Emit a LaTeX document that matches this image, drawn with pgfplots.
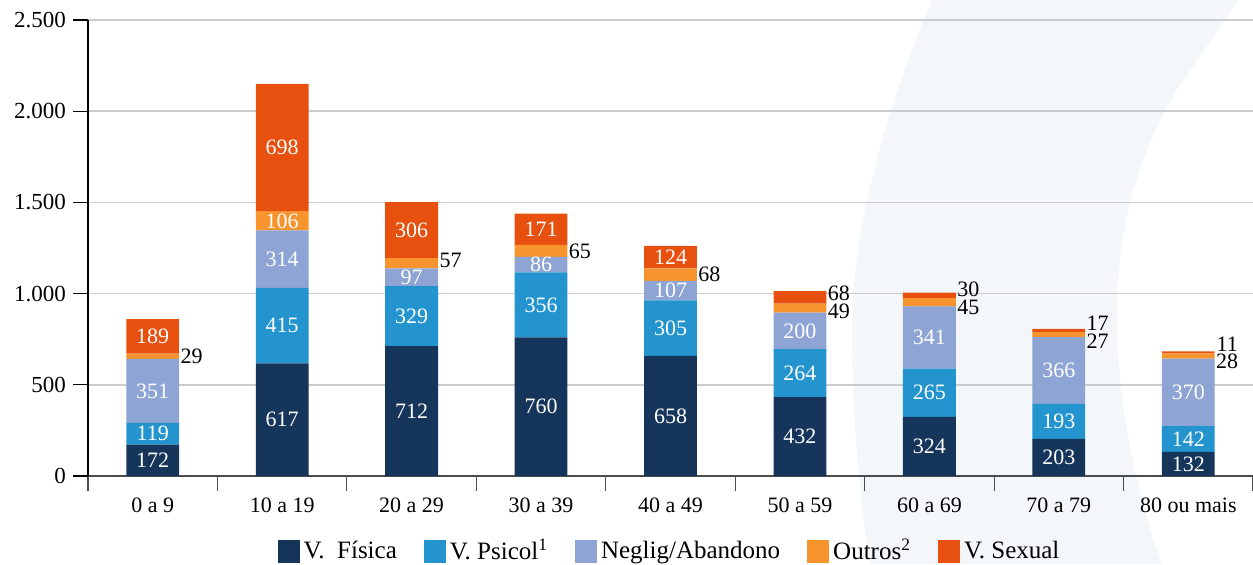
\documentclass[border=0pt]{standalone}
\usepackage{pgfplots}
\pgfplotsset{compat=1.18}
\usepackage{pgfplotstable}
\usepackage{fontspec}
\setmainfont{Liberation Serif}
\definecolor{cFis}{HTML}{15355B}
\definecolor{cPsi}{HTML}{2394CE}
\definecolor{cNeg}{HTML}{8EA4D4}
\definecolor{cOut}{HTML}{F7942D}
\definecolor{cSex}{HTML}{E8500F}
\definecolor{cArc}{HTML}{F3F7FA}
\newcommand{\f}{\fontsize{11pt}{13pt}\selectfont}
\newcommand{\fl}{\fontsize{12.5pt}{14pt}\selectfont}

\pgfplotstableread{
x v out dy
0 172 0 0
1 617 0 0
2 712 0 0
3 760 0 0
4 658 0 0
5 432 0 0
6 324 0 0
7 203 0 0
8 132 0 0
}\tFis
\pgfplotstableread{
x v out dy
0 119 0 0
1 415 0 0
2 329 0 0
3 356 0 0
4 305 0 0
5 264 0 0
6 265 0 0
7 193 0 0
8 142 0 0
}\tPsi
\pgfplotstableread{
x v out dy
0 351 0 0
1 314 0 0
2 97 0 0
3 86 0 0
4 107 0 0
5 200 0 0
6 341 0 0
7 366 0 0
8 370 0 0
}\tNeg
\pgfplotstableread{
x v out dy
0 29 1 0
1 106 0 0
2 57 1 1.5
3 65 1 0
4 68 1 0
5 49 1 -1.6
6 45 1 -2.4
7 27 1 -3.1
8 28 1 -2.9
}\tOut
\pgfplotstableread{
x v out dy
0 189 0 0
1 698 0 0
2 306 0 0
3 171 0 0
4 124 0 0
5 68 1 2.2
6 30 1 2.9
7 17 1 3.9
8 11 1 4.2
}\tSex

\begin{document}
\begin{tikzpicture}
\path[use as bounding box] (-44pt,-44pt) rectangle (582.5pt,238pt);
\begin{scope}[x=0.5pt,y=-0.5pt,shift={(-88,-476)}]
\fill[cArc] (932,0) .. controls (885,110) and (852,230) .. (852,330)
  .. controls (852,420) and (860,500) .. (870,564)
  -- (1162,564) .. controls (1138,500) and (1115,400) .. (1117,300)
  .. controls (1120,220) and (1140,150) .. (1177,90) -- (1238,0) -- cycle;
\end{scope}
\begin{axis}[
  at={(0,0)}, anchor=south west,
  scale only axis, width=582.5pt, height=228pt,
  ybar stacked, bar width=26.4pt,
  xmin=-0.5, xmax=8.5, ymin=0, ymax=2500,
  xtick={0,...,8},
  xticklabels={0 a 9,10 a 19,20 a 29,30 a 39,40 a 49,50 a 59,60 a 69,70 a 79,80 ou mais},
  minor xtick={-0.5,0.5,...,8.5},
  ytick={0,500,...,2500},
  ymajorgrids, grid style={draw=black!20, line width=0.75pt},
  axis x line*=bottom, axis y line*=left,
  x axis line style={draw=black!70, line width=0.75pt},
  y axis line style={draw=black, line width=0.6pt},
  tick align=outside,
  major tick length=7.5pt, minor tick length=7.5pt,
  major x tick style={draw=none},
  minor x tick style={draw=black!70, line width=0.6pt},
  ytick style={draw=black, line width=0.6pt},
  /pgf/number format/assume math mode=true,
  /pgf/number format/1000 sep={.},
  tick label style={font=\f},
  yticklabel style={font=\fontsize{11.5pt}{13pt}\selectfont},
  nodes near coords={\pgfmathprintnumber[fixed,precision=0]{\labv}},
  visualization depends on={\thisrow{v} \as \labv},
  visualization depends on={100*\thisrow{out} \as \labk},
  visualization depends on={\thisrow{out} \as \labout},
  visualization depends on={\thisrow{dy} \as \labdy},
  every node near coord/.append style={anchor=center, text=black!\labk, inner sep=0pt, font=\f,
     xshift={19.45pt*\labout}, yshift={\labdy*1pt}},
  legend columns=5,
  legend style={at={(0.5,-0.1645)}, anchor=center, draw=none, fill=none, font=\fl,
     /tikz/every even column/.append style={column sep=11.5pt}},
  legend image code/.code={\fill[#1] (0pt,-5.75pt) rectangle (11pt,5.75pt);},
]
\addplot[fill=cFis, draw=none] table[x=x,y=v] \tFis;
\addplot[fill=cPsi, draw=none] table[x=x,y=v] \tPsi;
\addplot[fill=cNeg, draw=none] table[x=x,y=v] \tNeg;
\addplot[fill=cOut, draw=none] table[x=x,y=v] \tOut;
\addplot[fill=cSex, draw=none] table[x=x,y=v] \tSex;
\legend{V.\ \ Física, V. Psicol\textsuperscript{1}, Neglig/Abandono, Outros\textsuperscript{2}, V. Sexual}
\end{axis}
\end{tikzpicture}
\end{document}
